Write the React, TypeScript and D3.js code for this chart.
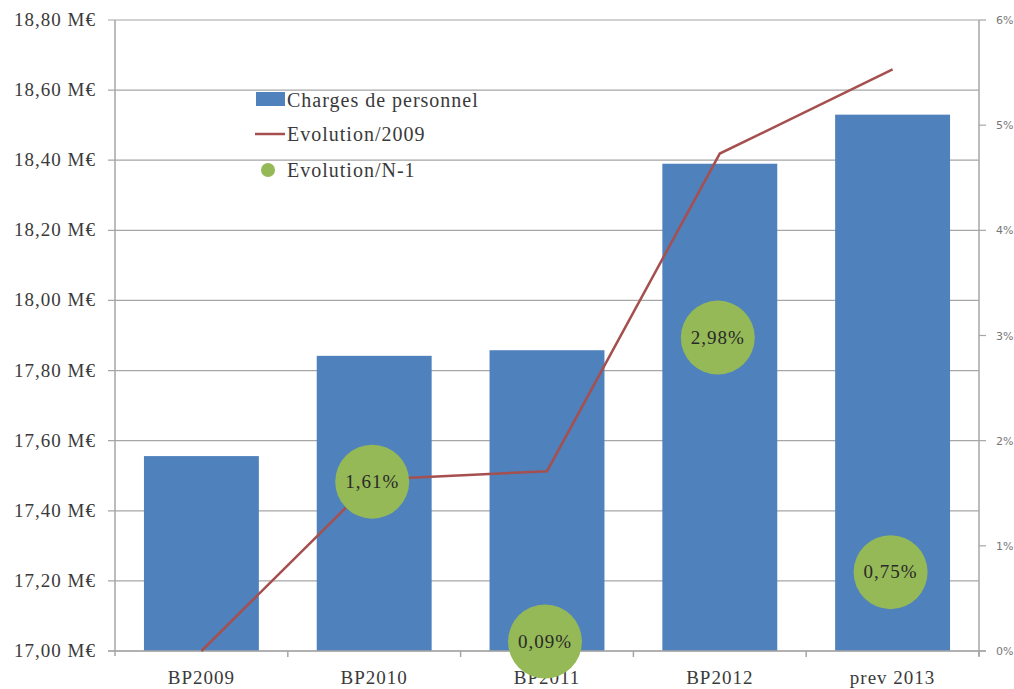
import React from "react";
import * as d3 from "d3";

const categories = ["BP2009", "BP2010", "BP2011", "BP2012", "prev 2013"];
const charges = [17.556, 17.842, 17.858, 18.39, 18.53];
const evol2009 = [0, 1.63, 1.71, 4.73, 5.53];
const evolN1 = [null, 1.61, 0.09, 2.98, 0.75];
const evolN1Labels = ["", "1,61%", "0,09%", "2,98%", "0,75%"];
const leftTicks = [17.0, 17.2, 17.4, 17.6, 17.8, 18.0, 18.2, 18.4, 18.6, 18.8];
const rightTicks = [0, 1, 2, 3, 4, 5, 6];

const W = 1014, H = 689;
const left = 115, right = 979, top = 20, bottom = 651;
const serif = "'Liberation Serif', 'DejaVu Serif', serif";
const sans = "'DejaVu Sans', Verdana, sans-serif";
const gridColor = "#A6A6A6";
const textColor = "#3a3a3a";

export default function App() {
  const x = d3.scaleBand<string>().domain(categories).range([left, right]).paddingInner(0.335).paddingOuter(0.1675);
  const xc = (c: string) => (x(c) as number) + x.bandwidth() / 2;
  const step = x.step();
  const yL = d3.scaleLinear().domain([17, 18.8]).range([bottom, top]);
  const yR = d3.scaleLinear().domain([0, 6]).range([bottom, top]);
  const fmtL = (v: number) => v.toFixed(2).replace(".", ",") + " M€";
  const line = d3.line<number>().x((_, i) => xc(categories[i])).y((d) => yR(d));

  return (
    <svg width={W} height={H} style={{ position: "absolute", left: 0, top: 0, background: "#fff" }}>
      {leftTicks.map((t) => (
        <line key={"g" + t} x1={left - 7} x2={right} y1={yL(t)} y2={yL(t)} stroke={gridColor} strokeWidth={1.2} />
      ))}
      {categories.map((c, i) => (
        <rect key={c} x={x(c)} y={yL(charges[i])} width={x.bandwidth()} height={bottom - yL(charges[i])} fill="#4F81BD" />
      ))}
      <line x1={left} x2={left} y1={top} y2={bottom + 5} stroke={gridColor} strokeWidth={1.5} />
      <line x1={right} x2={right} y1={top} y2={bottom + 5} stroke={gridColor} strokeWidth={1.5} />
      <line x1={left - 7} x2={right + 7} y1={bottom} y2={bottom} stroke={gridColor} strokeWidth={1.5} />
      {categories.map((c, i) => (
        <line key={"xt" + c} x1={left + step * (i + 1)} x2={left + step * (i + 1)} y1={bottom} y2={bottom + 6} stroke={gridColor} strokeWidth={1.5} />
      ))}
      {rightTicks.map((t) => (
        <g key={"r" + t}>
          <line x1={right} x2={right + 7} y1={yR(t)} y2={yR(t)} stroke={gridColor} strokeWidth={1.2} />
          <text x={right + 17} y={yR(t) + 4} fontFamily={sans} fontSize={11} fill="#777">{t + "%"}</text>
        </g>
      ))}
      {leftTicks.map((t) => (
        <text key={"lt" + t} x={96} y={yL(t) + 6} textAnchor="end" fontFamily={serif} fontSize={19} letterSpacing={1} fill={textColor}>{fmtL(t)}</text>
      ))}
      {categories.map((c) => (
        <text key={"xl" + c} x={xc(c)} y={684} textAnchor="middle" fontFamily={serif} fontSize={19} letterSpacing={1} fill={textColor}>{c}</text>
      ))}
      <path d={line(evol2009) || ""} fill="none" stroke="#A5504F" strokeWidth={2.5} />
      {categories.map((c, i) =>
        evolN1[i] == null ? null : (
          <g key={"b" + c}>
            <circle cx={xc(c) - 2} cy={yR(evolN1[i] as number)} r={37} fill="#94B956" />
            <text x={xc(c) - 2} y={yR(evolN1[i] as number) + 6} textAnchor="middle" fontFamily={serif} fontSize={19} letterSpacing={1} fill="#2a2a2a">{evolN1Labels[i]}</text>
          </g>
        )
      )}
      <rect x={256} y={92} width={29} height={14} fill="#4F81BD" />
      <text x={287} y={107} fontFamily={serif} fontSize={20} letterSpacing={1} fill={textColor}>Charges de personnel</text>
      <line x1={255} x2={285} y1={134} y2={134} stroke="#A5504F" strokeWidth={2.5} />
      <text x={287} y={141} fontFamily={serif} fontSize={20} letterSpacing={1} fill={textColor}>Evolution/2009</text>
      <circle cx={268} cy={170} r={7} fill="#94B956" />
      <text x={287} y={177} fontFamily={serif} fontSize={20} letterSpacing={1} fill={textColor}>Evolution/N-1</text>
    </svg>
  );
}
